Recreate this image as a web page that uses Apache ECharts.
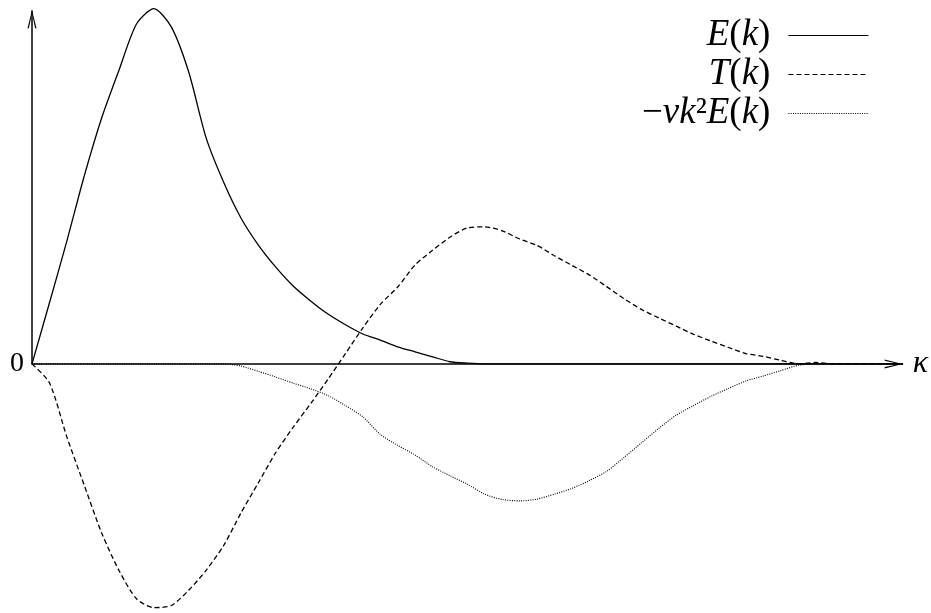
<!DOCTYPE html>
<html>
<head>
<meta charset="utf-8">
<script src="https://cdn.jsdelivr.net/npm/echarts@6/dist/echarts.min.js"></script>
<style>
  html, body { margin: 0; padding: 0; background: #fff; }
  #chart { width: 931px; height: 613px; }
</style>
</head>
<body>
<div id="chart"></div>
<script>
// wavenumber samples (k), 0..10 step 0.2
const kValues = [
  0, 0.2, 0.4, 0.6, 0.8, 1.0, 1.2, 1.4, 1.6, 1.8,
  2.0, 2.2, 2.4, 2.6, 2.8, 3.0, 3.2, 3.4, 3.6, 3.8,
  4.0, 4.2, 4.4, 4.6, 4.8, 5.0, 5.2, 5.4, 5.6, 5.8,
  6.0, 6.2, 6.4, 6.6, 6.8, 7.0, 7.2, 7.4, 7.6, 7.8,
  8.0, 8.2, 8.4, 8.6, 8.8, 9.0, 9.2, 9.4, 9.6, 9.8, 10
]

// energy spectrum E(k)
const energy = [
  0, 0.171, 0.345, 0.528, 0.691, 0.826, 0.955, 0.998, 0.947, 0.82,
  0.635, 0.511, 0.41, 0.334, 0.272, 0.219, 0.177, 0.14, 0.11, 0.084,
  0.067, 0.048, 0.034, 0.02, 0.006, 0.002, 0, 0, 0, 0,
  0, 0, 0, 0, 0, 0, 0, 0, 0, 0,
  0, 0, 0, 0, 0, 0, 0, 0, 0, 0, 0
]

// transfer T(k)
const transfer = [
  0, -0.053, -0.205, -0.341, -0.475, -0.581, -0.66, -0.685, -0.679, -0.636,
  -0.58, -0.511, -0.419, -0.334, -0.249, -0.178, -0.112, -0.043, 0.029, 0.101,
  0.167, 0.216, 0.278, 0.319, 0.356, 0.382, 0.385, 0.374, 0.351, 0.333,
  0.304, 0.277, 0.25, 0.217, 0.183, 0.153, 0.129, 0.106, 0.083, 0.064,
  0.046, 0.029, 0.021, 0.01, 0, 0.004, 0, 0, 0, 0, 0
]

// dissipation -nu k^2 E(k)
const dissipation = [
  0, 0, 0, 0, 0, 0, 0, 0, 0, 0,
  0, 0, -0.006, -0.021, -0.037, -0.054, -0.07, -0.089, -0.117, -0.149,
  -0.198, -0.229, -0.256, -0.289, -0.314, -0.338, -0.366, -0.381, -0.385, -0.38,
  -0.366, -0.35, -0.328, -0.302, -0.263, -0.222, -0.181, -0.144, -0.117, -0.091,
  -0.069, -0.048, -0.034, -0.019, -0.004, 0, 0, 0, 0, 0, 0
]

const seriesNames = ['E(k)', 'T(k)', '−νk²E(k)']
const legendRich = {
  'E(k)': '{i|E}{r|(}{i|k}{r|)}',
  'T(k)': '{i|T}{r|(}{i|k}{r|)}',
  '−νk²E(k)': '{r|−}{i|νk}{r|²}{i|E}{r|(}{i|k}{r|)}',
}

const yAxisTop = 0.994
const serif = '"Liberation Serif", "Times New Roman", serif'
const chevron = 'path://M0,20 L5,0 L10,20 L8.5,20 L5,4 L1.5,20 Z'

function pairs(values) {
  return kValues.map((k, i) => [k, values[i]])
}

const chart = echarts.init(document.getElementById('chart'), null, { renderer: 'canvas' })

const option = {
  animation: false,
  backgroundColor: '#fff',
  grid: {
    left: 32,
    right: 28,
    top: 8,
    bottom: 0,
    containLabel: false,
  },
  legend: {
    data: seriesNames,
    orient: 'vertical',
    right: 57,
    top: 12,
    align: 'right',
    itemWidth: 80,
    itemHeight: 14,
    itemGap: 2,
    selectedMode: false,
    formatter: (name) => legendRich[name],
    lineStyle: { width: 1.2 },
    itemStyle: { color: 'rgba(0,0,0,0)', borderColor: 'rgba(0,0,0,0)', borderWidth: 0 },
    textStyle: {
      fontFamily: serif,
      fontSize: 37,
      color: '#000',
      lineHeight: 34,
      padding: [0, 13, 0, 0],
      rich: {
        i: { fontFamily: serif, fontSize: 37, fontStyle: 'italic', color: '#000', lineHeight: 34 },
        r: { fontFamily: serif, fontSize: 37, fontStyle: 'normal', color: '#000', lineHeight: 34 },
      },
    },
  },
  xAxis: {
    type: 'value',
    min: 0,
    max: 10,
    name: 'κ',
    nameLocation: 'end',
    nameGap: 10,
    nameTextStyle: {
      fontFamily: serif,
      fontStyle: 'italic',
      fontSize: 32,
      color: '#000',
      verticalAlign: 'middle',
      padding: [0, 0, 4, 0],
    },
    axisLine: {
      show: true,
      onZero: true,
      symbol: ['none', chevron],
      symbolSize: [9, 18],
      symbolOffset: [0, -9],
      lineStyle: { color: '#000', width: 1.5 },
    },
    axisTick: { show: false },
    axisLabel: { show: false },
    splitLine: { show: false },
  },
  yAxis: {
    type: 'value',
    min: -0.7,
    max: 1.0,
    interval: 0.1,
    axisLine: { show: false },
    axisTick: { show: false },
    splitLine: { show: false },
    axisLabel: {
      show: true,
      margin: 8,
      fontFamily: serif,
      fontSize: 28,
      color: '#000',
      formatter: (v) => (Math.abs(v) < 1e-9 ? '0' : ''),
    },
  },
  series: [
    {
      name: seriesNames[0],
      type: 'line',
      data: pairs(energy),
      symbol: 'none',
      showSymbol: false,
      smooth: 0.25,
      lineStyle: { color: '#000', width: 1.3, type: 'solid' },
      itemStyle: { color: '#000' },
      z: 3,
      markLine: {
        silent: true,
        symbol: ['none', 'none'],
        label: { show: false },
        lineStyle: { color: '#000', width: 1.5, type: 'solid' },
        data: [[{ coord: [0, 0] }, { coord: [0, yAxisTop] }]],
      },
      markPoint: {
        silent: true,
        label: { show: false },
        data: [
          {
            coord: [0, yAxisTop - 9 / 355.9],
            symbol: chevron,
            symbolSize: [9, 18],
            itemStyle: { color: '#000' },
          },
        ],
      },
    },
    {
      name: seriesNames[1],
      type: 'line',
      data: pairs(transfer),
      symbol: 'none',
      showSymbol: false,
      smooth: 0.25,
      lineStyle: { color: '#000', width: 1.3, type: [5, 3] },
      itemStyle: { color: '#000' },
      z: 3,
    },
    {
      name: seriesNames[2],
      type: 'line',
      data: pairs(dissipation),
      symbol: 'none',
      showSymbol: false,
      smooth: 0.25,
      lineStyle: { color: '#000', width: 1.1, type: [1, 1.3] },
      itemStyle: { color: '#000' },
      z: 3,
    },
  ],
}

chart.setOption(option)
</script>
</body>
</html>
